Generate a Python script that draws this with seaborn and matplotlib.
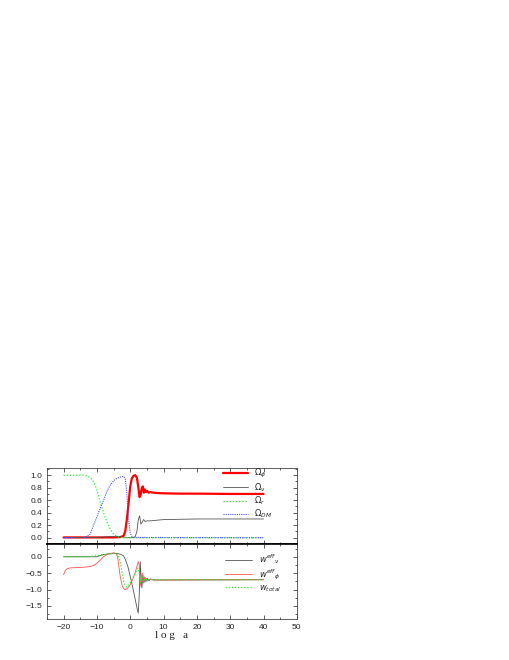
import numpy as np
import pandas as pd
import seaborn as sns
import matplotlib
matplotlib.use("Agg")
import matplotlib.pyplot as plt
from matplotlib.ticker import MultipleLocator

# ---- top panel: density parameters ----
om_phi_x = [-20, -10, -5, -3, -2, -1.5, -1, -0.5, 0, 0.5, 1, 1.5, 2, 2.4, 2.8, 3.1,
            3.5, 3.8, 4.1, 4.4, 4.7, 5.1, 5.5, 6, 7, 8, 10, 15, 20, 30, 40]
om_phi_y = [0.005, 0.005, 0.005, 0.01, 0.03, 0.1, 0.3, 0.55, 0.82, 0.95, 0.99, 1.0,
            0.96, 0.82, 0.65, 0.68, 0.8, 0.82, 0.72, 0.77, 0.73, 0.75, 0.72, 0.73,
            0.72, 0.715, 0.71, 0.705, 0.705, 0.7, 0.7]

om_nu_x = [-20, -10, -7, -5, -3, -1, 0, 1, 1.5, 2, 2.4, 2.8, 3.2, 3.6, 4.0, 4.5,
           5, 6, 8, 10, 15, 20, 40]
om_nu_y = [0.002, 0.005, 0.015, 0.02, 0.015, 0.005, 0.002, 0.005, 0.02, 0.1, 0.28,
           0.35, 0.22, 0.25, 0.29, 0.26, 0.27, 0.27, 0.28, 0.29, 0.295, 0.3, 0.3]

om_r_x = [-20, -14, -13, -12, -11, -10, -9, -8, -7, -6, -5, -4, -3, -2, 40]
om_r_y = [1.0, 1.0, 0.99, 0.96, 0.9, 0.77, 0.57, 0.4, 0.25, 0.14, 0.06, 0.02,
          0.005, 0.0, 0.0]

om_dm_x = [-20, -14, -13, -12, -11, -10, -9, -8, -7, -6, -5, -4, -3, -2, -1.5,
           -1, -0.5, 0, 0.5, 1, 40]
om_dm_y = [0.0, 0.0, 0.02, 0.06, 0.2, 0.33, 0.47, 0.6, 0.74, 0.84, 0.91, 0.95,
           0.97, 0.98, 0.95, 0.7, 0.3, 0.08, 0.02, 0.005, 0.0]

# ---- bottom panel: effective equation of state ----
w_nu_x = [-20, -10, -8, -6, -4, -3, -2, -1.4, -0.7, 0, 0.9, 1.6, 2.1, 2.4, 2.7,
          3.0, 3.3, 3.5, 3.8, 4.1, 4.4, 4.7, 5.1, 5.6, 6.1, 7, 40]
w_nu_y = [0.0, 0.0, 0.07, 0.09, 0.1, 0.08, 0.03, -0.1, -0.3, -0.6, -1.0, -1.35,
          -1.6, -1.72, -1.2, -0.15, -0.7, -0.95, -0.55, -0.8, -0.62, -0.76, -0.66,
          -0.73, -0.68, -0.71, -0.7]

w_phi_x = [-20, -19.5, -19, -18, -16, -14, -12, -11, -10, -9, -8, -7, -6, -5,
           -4.3, -3.8, -3.4, -3.0, -2.5, -2, -1.5, -1, -0.5, 0, 0.5, 1, 1.5, 2,
           2.4, 2.7, 3.0, 3.3, 3.6, 3.9, 4.2, 4.5, 4.9, 5.3, 6, 7, 40]
w_phi_y = [-0.55, -0.42, -0.37, -0.34, -0.33, -0.32, -0.3, -0.27, -0.2, -0.1, 0.0,
           0.07, 0.1, 0.12, 0.1, 0.0, -0.3, -0.6, -0.85, -0.97, -1.0, -0.98, -0.93,
           -0.85, -0.75, -0.62, -0.48, -0.3, -0.15, -0.25, -0.9, -0.7, -0.5, -0.8,
           -0.62, -0.77, -0.66, -0.74, -0.68, -0.71, -0.7]

w_tot_x = [-20, -13, -11, -9, -7, -5, -4, -3.5, -3, -2.5, -2, -1.5, -1, -0.5, 0,
           0.5, 1, 1.5, 2, 2.4, 2.8, 3.2, 3.6, 4, 4.5, 5, 6, 7, 40]
w_tot_y = [0.0, 0.0, 0.02, 0.05, 0.08, 0.1, 0.08, 0.02, -0.15, -0.45, -0.75, -0.88,
           -0.92, -0.88, -0.8, -0.7, -0.6, -0.5, -0.4, -0.35, -0.55, -0.8, -0.62,
           -0.75, -0.66, -0.73, -0.69, -0.7, -0.7]

x_ticks = [-20, -10, 0, 10, 20, 30, 40, 50]


def style_axis(ax, major, minor):
    ax.set_xlim(-25, 50)
    ax.xaxis.set_major_locator(MultipleLocator(10))
    ax.xaxis.set_minor_locator(MultipleLocator(5))
    ax.yaxis.set_major_locator(MultipleLocator(major))
    ax.yaxis.set_minor_locator(MultipleLocator(minor))
    ax.tick_params(which="both", direction="in", top=True, right=True,
                   labelsize=6, width=0.6, color="#444444")
    ax.tick_params(which="major", length=3)
    ax.tick_params(which="minor", length=1.5)
    for sp in ax.spines.values():
        sp.set_linewidth(0.6)
        sp.set_color("#444444")
    ax.set_xlabel("")
    ax.set_ylabel("")


def draw(ax, x, y, label, **kw):
    # one seaborn line, return the artist it added for the legend
    sns.lineplot(x=x, y=y, ax=ax, legend=False, **kw)
    line = ax.lines[-1]
    line.set_label(label)
    return line


sns.set_style("ticks")
plt.rcParams["font.family"] = ["Liberation Sans", "DejaVu Sans"]
plt.rcParams["mathtext.fontset"] = "dejavusans"

fig = plt.figure(figsize=(5.1, 6.6), dpi=100)
ax1 = fig.add_axes([0.092, 0.1753, 0.490, 0.1161])
ax2 = fig.add_axes([0.092, 0.0621, 0.490, 0.1132])

top_handles = [
    draw(ax1, om_phi_x, om_phi_y, r"$\Omega_{\phi}$", color="#ff0000", lw=1.6),
    draw(ax1, om_nu_x, om_nu_y, r"$\Omega_{\nu}$", color="#555555", lw=0.6),
    draw(ax1, om_r_x, om_r_y, r"$\Omega_{r}$", color="#22ee22", lw=0.9,
         linestyle=(0, (1, 1.5))),
    draw(ax1, om_dm_x, om_dm_y, r"$\Omega_{DM}$", color="#4d4dff", lw=0.8,
         linestyle=(0, (1, 1))),
]
style_axis(ax1, 0.2, 0.1)
ax1.set_ylim(-0.105, 1.12)
ax1.set_yticks([0.0, 0.2, 0.4, 0.6, 0.8, 1.0])
ax1.tick_params(labelbottom=False)
ax1.spines["bottom"].set_linewidth(1.2)
ax1.spines["bottom"].set_color("black")
ax1.legend(handles=top_handles, loc="upper left", bbox_to_anchor=(0.69, 1.05),
           frameon=False, fontsize=6, handlelength=3.0, labelspacing=0.1,
           borderaxespad=0)

bottom_handles = [
    draw(ax2, w_nu_x, w_nu_y, r"$w^{eff}{}_{\nu}$", color="#555555", lw=0.6),
    draw(ax2, w_phi_x, w_phi_y, r"$w^{eff}{}_{\phi}$", color="#ff5555", lw=0.6),
    draw(ax2, w_tot_x, w_tot_y, r"$w_{total}$", color="#22ee22", lw=0.9,
         linestyle=(0, (1, 1.5))),
]
style_axis(ax2, 0.5, 0.25)
ax2.set_ylim(-1.9, 0.38)
ax2.set_yticks([-1.5, -1.0, -0.5, 0.0])
ax2.set_xticks(x_ticks)
ax2.spines["top"].set_linewidth(1.2)
ax2.spines["top"].set_color("black")
ax2.legend(handles=bottom_handles, loc="upper left", bbox_to_anchor=(0.7, 0.94),
           frameon=False, fontsize=6, handlelength=3.2, labelspacing=0.15,
           borderaxespad=0)
ax2.set_xlabel("l o g   a", fontsize=8, family="Liberation Serif", labelpad=0)

fig.savefig("out.png", dpi=100)
